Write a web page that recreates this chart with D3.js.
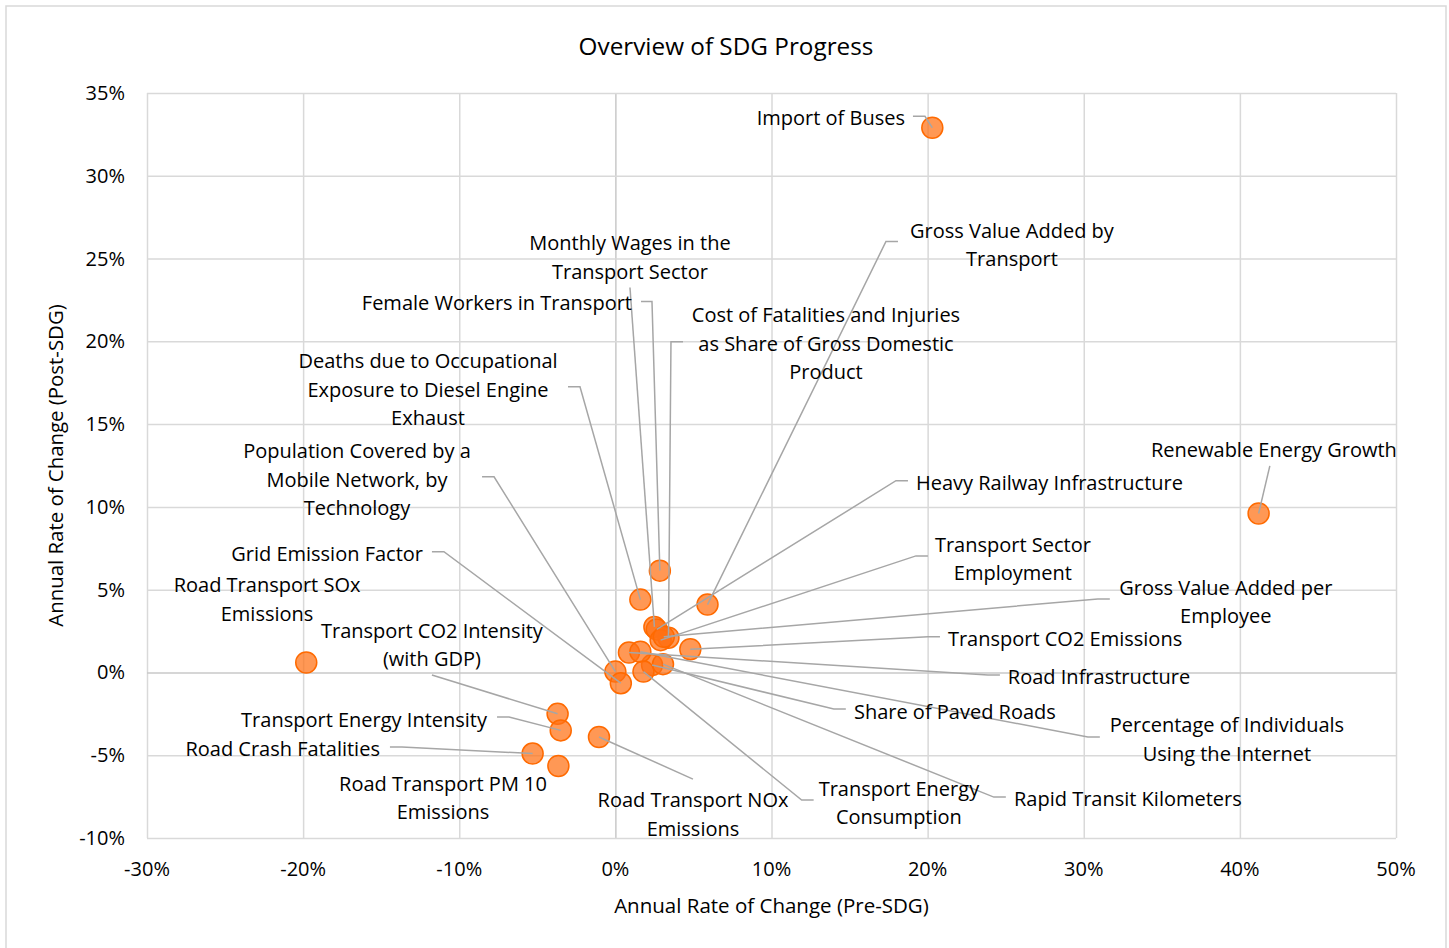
<!DOCTYPE html>
<html><head><meta charset="utf-8">
<script src="https://cdn.jsdelivr.net/npm/d3@7"></script>
<style>
body{margin:0;background:#fff;}
text{font-family:'Open Sans','Noto Sans',sans-serif;fill:#000;}
</style>
</head><body><svg id="c" width="1449" height="948"></svg>
<script>
// ---------------- DATA ----------------
const categories = [
  "Import of Buses",
  "Gross Value Added by Transport",
  "Monthly Wages in the Transport Sector",
  "Female Workers in Transport",
  "Cost of Fatalities and Injuries as Share of Gross Domestic Product",
  "Deaths due to Occupational Exposure to Diesel Engine Exhaust",
  "Population Covered by a Mobile Network, by Technology",
  "Renewable Energy Growth",
  "Heavy Railway Infrastructure",
  "Transport Sector Employment",
  "Grid Emission Factor",
  "Road Transport SOx Emissions",
  "Gross Value Added per Employee",
  "Transport CO2 Intensity (with GDP)",
  "Transport CO2 Emissions",
  "Road Infrastructure",
  "Transport Energy Intensity",
  "Share of Paved Roads",
  "Percentage of Individuals Using the Internet",
  "Road Crash Fatalities",
  "Road Transport PM 10 Emissions",
  "Road Transport NOx Emissions",
  "Transport Energy Consumption",
  "Rapid Transit Kilometers"
];
// Annual rate of change, pre-SDG (%)
const preSDG  = [20.3, 5.9, 2.5, 2.85, 3.4, 1.6, 0.0, 41.2, 2.65, 2.9, 0.35, -19.8, 3.1, -3.7, 4.8, 0.87, -3.5, 2.35, 1.6, -5.3, -3.65, -1.05, 1.8, 3.05];
// Annual rate of change, post-SDG (%)
const postSDG = [32.9, 4.1, 2.75, 6.15, 2.1, 4.4, 0.05, 9.6, 2.6, 1.95, -0.65, 0.6, 2.15, -2.5, 1.4, 1.2, -3.5, 0.45, 1.25, -4.9, -5.65, -3.9, 0.05, 0.5];

const xTickValues = [-30, -20, -10, 0, 10, 20, 30, 40, 50];
const yTickValues = [-10, -5, 0, 5, 10, 15, 20, 25, 30, 35];

const chartTitle = "Overview of SDG Progress";
const xTitle = "Annual Rate of Change (Pre-SDG)";
const yTitle = "Annual Rate of Change (Post-SDG)";

// ---------------- LABEL LAYOUT (data units) ----------------
const labelLayout = [
  {lines:["Import of Buses"], tx:18.55, ty:33.52, anchor:"end", sx:19.06, sy:33.59, dir:12},
  {lines:["Gross Value Added by","Transport"], tx:25.40, ty:25.82, anchor:"middle", sx:18.10, sy:26.03, dir:-12},
  {lines:["Monthly Wages in the","Transport Sector"], tx:0.935, ty:25.06, anchor:"middle", sx:0.935, sy:23.25, dir:0},
  {lines:["Female Workers in Transport"], tx:1.063, ty:22.34, anchor:"end", sx:1.64, sy:22.40, dir:11},
  {lines:["Cost of Fatalities and Injuries","as Share of Gross Domestic","Product"], tx:13.49, ty:19.86, anchor:"middle", sx:4.33, sy:19.98, dir:-12},
  {lines:["Deaths due to Occupational","Exposure to Diesel Engine","Exhaust"], tx:-12.0, ty:17.08, anchor:"middle", sx:-3.035, sy:17.26, dir:12},
  {lines:["Population Covered by a","Mobile Network, by","Technology"], tx:-16.55, ty:11.64, anchor:"middle", sx:-8.54, sy:11.82, dir:12},
  {lines:["Renewable Energy Growth"], tx:42.18, ty:13.45, anchor:"middle", sx:41.92, sy:12.48, dir:0},
  {lines:["Heavy Railway Infrastructure"], tx:19.25, ty:11.46, anchor:"start", sx:18.74, sy:11.58, dir:-12},
  {lines:["Transport Sector","Employment"], tx:25.46, ty:6.86, anchor:"middle", sx:20.02, sy:7.04, dir:-12},
  {lines:["Grid Emission Factor"], tx:-12.32, ty:7.16, anchor:"end", sx:-11.75, sy:7.29, dir:12},
  {lines:["Road Transport SOx","Emissions"], tx:-22.31, ty:4.41, anchor:"middle", none:true},
  {lines:["Gross Value Added per","Employee"], tx:39.10, ty:4.26, anchor:"middle", sx:31.67, sy:4.44, dir:-12},
  {lines:["Transport CO2 Intensity","(with GDP)"], tx:-11.75, ty:1.66, anchor:"middle", sx:-11.75, sy:-0.15, dir:0},
  {lines:["Transport CO2 Emissions"], tx:21.30, ty:2.03, anchor:"start", sx:20.79, sy:2.15, dir:-12},
  {lines:["Road Infrastructure"], tx:25.14, ty:-0.27, anchor:"start", sx:24.63, sy:-0.15, dir:-12},
  {lines:["Transport Energy Intensity"], tx:-8.22, ty:-2.87, anchor:"end", sx:-7.58, sy:-2.69, dir:12},
  {lines:["Share of Paved Roads"], tx:15.28, ty:-2.39, anchor:"start", sx:14.76, sy:-2.21, dir:-12},
  {lines:["Percentage of Individuals","Using the Internet"], tx:39.17, ty:-4.05, anchor:"middle", sx:31.03, sy:-3.90, dir:-12},
  {lines:["Road Crash Fatalities"], tx:-15.08, ty:-4.63, anchor:"end", sx:-14.44, sy:-4.50, dir:12},
  {lines:["Road Transport PM 10","Emissions"], tx:-11.04, ty:-7.59, anchor:"middle", none:true},
  {lines:["Road Transport NOx","Emissions"], tx:4.97, ty:-8.59, anchor:"middle", sx:4.97, sy:-6.44, dir:0},
  {lines:["Transport Energy","Consumption"], tx:18.16, ty:-7.89, anchor:"middle", sx:12.70, sy:-7.71, dir:-12},
  {lines:["Rapid Transit Kilometers"], tx:25.53, ty:-7.65, anchor:"start", sx:25.01, sy:-7.53, dir:-12}
];

// ---------------- DRAW ----------------
const svg = d3.select("#c");
const x = d3.scaleLinear().domain([-30, 50]).range([147, 1396]);
const y = d3.scaleLinear().domain([-10, 35]).range([838, 93]);

svg.append("rect").attr("x", 6).attr("y", 6).attr("width", 1440).attr("height", 960)
  .attr("fill", "#fff").attr("stroke", "#d9d9d9").attr("stroke-width", 1.5);

const gx = svg.append("g").attr("transform", `translate(0,${y(-10)})`)
  .call(d3.axisBottom(x).tickValues(xTickValues).tickSize(-(y(-10) - y(35))).tickFormat(""));
gx.select(".domain").remove();
gx.selectAll("line").attr("stroke", d => d === 0 ? "#c9c9c9" : "#d9d9d9").attr("stroke-width", 1.5);

const gy = svg.append("g").attr("transform", `translate(${x(-30)},0)`)
  .call(d3.axisLeft(y).tickValues(yTickValues).tickSize(-(x(50) - x(-30))).tickFormat(""));
gy.select(".domain").remove();
gy.selectAll("line").attr("stroke", d => d === 0 ? "#c9c9c9" : "#d9d9d9").attr("stroke-width", 1.5);

svg.append("g").selectAll("text").data(yTickValues).join("text")
  .attr("x", x(-30) - 22).attr("y", d => y(d)).attr("dy", "0.35em")
  .attr("text-anchor", "end").attr("font-size", 20).text(d => d + "%");
svg.append("g").selectAll("text").data(xTickValues).join("text")
  .attr("x", d => x(d)).attr("y", y(-10) + 31).attr("dy", "0.35em")
  .attr("text-anchor", "middle").attr("font-size", 20).text(d => d + "%");

svg.append("text").attr("x", 726).attr("y", 46).attr("dy", "0.35em").attr("text-anchor", "middle")
  .attr("font-size", 24.3).text(chartTitle);
svg.append("text").attr("x", (x(-30) + x(50)) / 2).attr("y", 906).attr("dy", "0.35em").attr("text-anchor", "middle")
  .attr("font-size", 20.5).text(xTitle);
svg.append("text").attr("transform", `translate(56,${(y(-10) + y(35)) / 2}) rotate(-90)`).attr("dy", "0.35em")
  .attr("text-anchor", "middle").attr("font-size", 20.4).text(yTitle);

const data = categories.map((c, i) => ({name: c, px: preSDG[i], py: postSDG[i], lay: labelLayout[i]}));
svg.append("g").selectAll("circle").data(data).join("circle")
  .attr("cx", d => x(d.px)).attr("cy", d => y(d.py)).attr("r", 10.5)
  .attr("fill", "rgba(255,112,20,0.72)").attr("stroke", "#ff6a00").attr("stroke-width", 1.5);

svg.append("g").selectAll("polyline").data(data.filter(d => !d.lay.none)).join("polyline")
  .attr("fill", "none").attr("stroke", "#a6a6a6").attr("stroke-width", 1.5)
  .attr("points", d => {
    const s = [x(d.lay.sx), y(d.lay.sy)];
    const pts = [s];
    if (d.lay.dir) pts.push([s[0] + d.lay.dir, s[1]]);
    pts.push([x(d.px), y(d.py)]);
    return pts.map(p => p.join(",")).join(" ");
  });

const lh = 28.5;
const lg = svg.append("g").selectAll("text").data(data).join("text")
  .attr("text-anchor", d => d.lay.anchor).attr("font-size", 20);
lg.each(function(d) {
  const t = d3.select(this);
  const n = d.lay.lines.length;
  d.lay.lines.forEach((ln, i) => {
    t.append("tspan").attr("x", x(d.lay.tx))
      .attr("y", y(d.lay.ty) + (i - (n - 1) / 2) * lh).attr("dy", "0.35em").text(ln);
  });
});
</script>
</body></html>
